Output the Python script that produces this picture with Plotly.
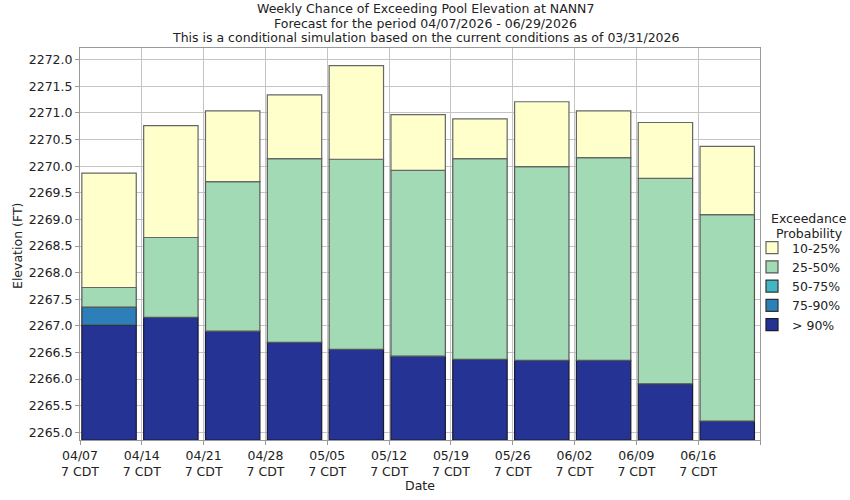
import plotly.graph_objects as go

weeks = ["04/07", "04/14", "04/21", "04/28", "05/05", "05/12", "05/19", "05/26", "06/02", "06/09", "06/16"]
p90 = [2267.01, 2267.16, 2266.90, 2266.69, 2266.56, 2266.43, 2266.37, 2266.35, 2266.35, 2265.91, 2265.21]
p75 = [2267.35, 2267.16, 2266.90, 2266.69, 2266.56, 2266.43, 2266.37, 2266.35, 2266.35, 2265.91, 2265.21]
p50 = [2267.35, 2267.16, 2266.90, 2266.69, 2266.56, 2266.43, 2266.37, 2266.35, 2266.35, 2265.91, 2265.21]
p25 = [2267.72, 2268.66, 2269.71, 2270.14, 2270.13, 2269.92, 2270.14, 2269.99, 2270.16, 2269.77, 2269.09]
p10 = [2269.87, 2270.76, 2271.04, 2271.34, 2271.89, 2270.97, 2270.89, 2271.21, 2271.04, 2270.82, 2270.37]

title_lines = [
    "Weekly Chance of Exceeding Pool Elevation at NANN7",
    "Forecast for the period 04/07/2026 - 06/29/2026",
    "This is a conditional simulation based on the current conditions as of 03/31/2026",
]
legend_title = ["Exceedance", "Probability"]

ymin, ymax = 2264.855, 2272.22
xpos = [i + 0.47 for i in range(len(weeks))]
bw = 0.88

W, H = 850, 500
# plot area in page pixels: x 80..760, y 48..440
PL, PR, PT, PB = 80, 760, 48, 440
ML, MT = PL, PT
MR, MB = W - PR, H - PB
PW, PH = PR - PL, PB - PT


def px_to_paper_x(px):
    return (px - PL) / PW


def px_to_paper_y(py):
    return (PB - py) / PH


def seg(lo, hi):
    return [(h - l) if h - l > 1e-9 else None for l, h in zip(lo, hi)]


fig = go.Figure()
series = [
    ("> 90%", [ymin] * len(weeks), p90, "#253494", "#1a1a2e"),
    ("75-90%", p90, p75, "#2c7fb8", "#333333"),
    ("50-75%", p75, p50, "#41b6c4", "#333333"),
    ("25-50%", p50, p25, "#a1dab4", "#555555"),
    ("10-25%", p25, p10, "#ffffcc", "#666666"),
]
for name, lo, hi, col, lc in series:
    fig.add_trace(go.Bar(
        x=xpos, y=seg(lo, hi), base=lo, width=bw, name=name,
        marker=dict(color=col, line=dict(color=lc, width=1.2)),
    ))

tickvals = list(range(len(weeks) + 1))
ticktext = [f"{w}<br>7 CDT" for w in weeks] + [""]

annotations = []
for line, py in zip(title_lines, [8.5, 23, 37.5]):
    annotations.append(dict(
        text=line, xref="paper", yref="paper",
        x=px_to_paper_x(425), y=px_to_paper_y(py),
        xanchor="center", yanchor="middle", showarrow=False,
        font=dict(size=12.5, color="#222222"),
    ))
for line, py in zip(legend_title, [219, 233.5]):
    annotations.append(dict(
        text=line, xref="paper", yref="paper",
        x=px_to_paper_x(809), y=px_to_paper_y(py),
        xanchor="center", yanchor="middle", showarrow=False,
        font=dict(size=12.5, color="#222222"),
    ))
annotations.append(dict(
    text="Date", xref="paper", yref="paper",
    x=px_to_paper_x(420), y=px_to_paper_y(485),
    xanchor="center", yanchor="middle", showarrow=False,
    font=dict(size=12.5, color="#222222"),
))
annotations.append(dict(
    text="Elevation (FT)", xref="paper", yref="paper",
    x=px_to_paper_x(18), y=px_to_paper_y(246),
    xanchor="center", yanchor="middle", textangle=-90, showarrow=False,
    font=dict(size=12.5, color="#222222"),
))

fig.update_layout(
    width=W, height=H,
    margin=dict(l=ML, r=MR, t=MT, b=MB, autoexpand=False),
    paper_bgcolor="white", plot_bgcolor="white",
    font=dict(family="DejaVu Sans", size=12, color="#222222"),
    barmode="overlay",
    showlegend=True,
    annotations=annotations,
    legend=dict(
        xref="container", yref="container",
        x=752 / W, xanchor="left", y=1 - 233 / H, yanchor="top",
        traceorder="reversed",
        font=dict(size=12.5),
        itemwidth=30, tracegroupgap=0,
        bgcolor="rgba(0,0,0,0)",
    ),
    xaxis=dict(
        range=[0, len(weeks)], tickmode="array", tickvals=tickvals, ticktext=ticktext,
        showgrid=True, gridcolor="#c4c4c4", gridwidth=1,
        showline=True, linecolor="#999999", mirror=True,
        ticks="outside", ticklen=4, tickcolor="#999999",
        tickfont=dict(size=12.5),
        zeroline=False,
    ),
    yaxis=dict(
        range=[ymin, ymax], tick0=2265.0, dtick=0.5, tickformat=".1f",
        showgrid=True, gridcolor="#c4c4c4", gridwidth=1,
        showline=True, linecolor="#999999", mirror=True,
        ticks="outside", ticklen=4, tickcolor="#999999",
        tickfont=dict(size=12.5),
        zeroline=False,
    ),
)

# remove the browser's default 8px page margin so the figure sits at (0, 0)
fig.write_html("out.html", config={"displayModeBar": False},
               post_script="document.body.style.margin='0';")
